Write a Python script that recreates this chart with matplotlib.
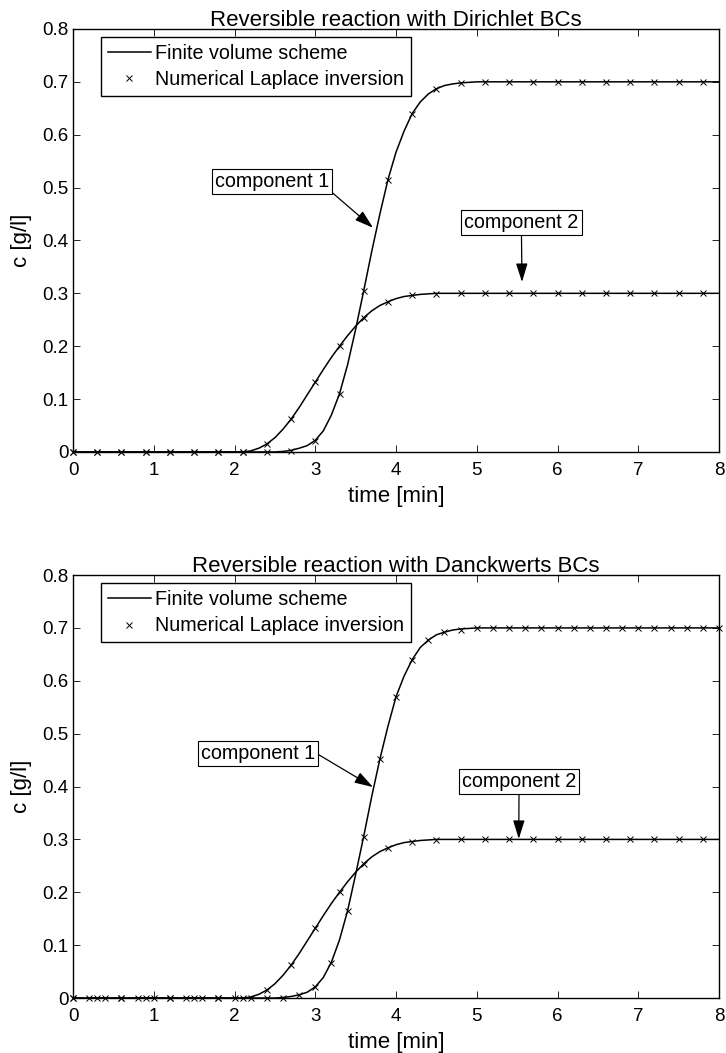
import numpy as np
import matplotlib
matplotlib.use("Agg")
import matplotlib.pyplot as plt

plt.rcParams['font.family'] = ['Liberation Sans', 'DejaVu Sans']
plt.rcParams['font.size'] = 13.5

# ---- curve data (finite volume scheme) ----
t_line = [0.0, 2.0, 2.1, 2.2, 2.3, 2.4, 2.5, 2.6, 2.7, 2.8, 2.9, 3.0, 3.1, 3.2, 3.3,
          3.4, 3.5, 3.6, 3.7, 3.8, 3.9, 4.0, 4.1, 4.2, 4.3, 4.4, 4.5, 4.6, 4.7,
          4.8, 4.9, 5.0, 8.0]
c1_dir_line = [0, 0, 0, 0, 0, 0, 0, 0.001, 0.003, 0.007, 0.012, 0.022, 0.04, 0.07, 0.11,
               0.165, 0.232, 0.305, 0.38, 0.45, 0.515, 0.567, 0.607, 0.64, 0.662, 0.677,
               0.687, 0.693, 0.696, 0.698, 0.699, 0.7, 0.7]
c2_dir_line = [0, 0, 0, 0.002, 0.007, 0.015, 0.027, 0.043, 0.062, 0.084, 0.108, 0.132, 0.156,
               0.179, 0.2, 0.22, 0.238, 0.254, 0.267, 0.277, 0.284, 0.29, 0.294, 0.296, 0.298,
               0.299, 0.3, 0.3, 0.3, 0.3, 0.3, 0.3, 0.3]
c1_dan_line = [0, 0, 0, 0, 0, 0, 0, 0.001, 0.003, 0.006, 0.011, 0.021, 0.039, 0.068, 0.11,
               0.165, 0.234, 0.306, 0.382, 0.452, 0.514, 0.57, 0.609, 0.64, 0.663, 0.677,
               0.687, 0.692, 0.696, 0.698, 0.699, 0.7, 0.7]
c2_dan_line = c2_dir_line

# ---- numerical Laplace inversion samples ----
t_dir = np.round(np.arange(0, 7.81, 0.3), 2)
c1_dir_pts = [0] * 9 + [0.002, 0.02, 0.11, 0.305, 0.515, 0.64, 0.687, 0.698] + [0.7] * 10
c2_dir_pts = [0] * 8 + [0.015, 0.062, 0.132, 0.2, 0.254, 0.284, 0.296, 0.299] + [0.3] * 11

t_dan1 = np.round(np.arange(0, 8.01, 0.2), 2)
c1_dan_pts = ([0] * 13 + [0.001, 0.005, 0.02, 0.067, 0.165, 0.305, 0.453, 0.57, 0.64,
              0.677, 0.692, 0.697, 0.699] + [0.7] * 15)
t_dan2 = t_dir
c2_dan_pts = c2_dir_pts

titles = ["Reversible reaction with Dirichlet BCs", "Reversible reaction with Danckwerts BCs"]

fig = plt.figure(figsize=(7.26, 10.53), dpi=100)
ax1 = fig.add_axes([0.1006, 0.5708, 0.8898, 0.4017])
ax2 = fig.add_axes([0.1006, 0.0522, 0.8898, 0.4017])

panels = [
    (ax1, c1_dir_line, c2_dir_line, t_dir, c1_dir_pts, t_dir, c2_dir_pts,
     ((2.464, 0.5116), (3.715, 0.424), (1.0, 0.05)), ((5.553, 0.4331), (5.56, 0.3215))),
    (ax2, c1_dan_line, c2_dan_line, t_dan1, c1_dan_pts, t_dan2, c2_dan_pts,
     ((2.291, 0.4624), (3.715, 0.399), (1.0, 0.55)), ((5.523, 0.4095), (5.52, 0.301))),
]

for i, (ax, l1, l2, tp1, p1, tp2, p2, ann1, ann2) in enumerate(panels):
    ax.plot(t_line, l1, 'k-', lw=1.1, label="Finite volume scheme")
    ax.plot(t_line, l2, 'k-', lw=1.1)
    ax.plot(tp1, p1, 'kx', ms=5, mew=0.7, label="Numerical Laplace inversion", clip_on=False)
    ax.plot(tp2, p2, 'kx', ms=5, mew=0.7, clip_on=False)

    ax.set_xlim(0, 8)
    ax.set_ylim(0, 0.8)
    ax.set_xticks(range(0, 9))
    ax.set_yticks(np.arange(0, 0.81, 0.1))
    ax.set_yticklabels(["0"] + [f"{v:.1f}" for v in np.arange(0.1, 0.81, 0.1)])
    ax.tick_params(direction='in', top=True, right=True, length=5, width=0.6, pad=3)
    ax.tick_params(axis='x', pad=7)
    for s in ax.spines.values():
        s.set_linewidth(1.0)
    ax.set_xlabel("time [min]", labelpad=5, fontsize=16)
    ax.set_ylabel("c [g/l]", labelpad=8, fontsize=16)
    ax.set_title(titles[i], pad=2, fontsize=16)

    leg = ax.legend(loc='upper left', bbox_to_anchor=(0.043, 0.981), borderaxespad=0,
                    fancybox=False, edgecolor='black', framealpha=1, handlelength=2.2,
                    handletextpad=0.2, borderpad=0.35, labelspacing=0.38, fontsize=14.2)
    leg.get_frame().set_linewidth(1.0)

    box = dict(boxstyle='square,pad=0.15', fc='white', ec='black', lw=0.8)
    (txy1, axy1, rp1) = ann1
    ax.annotate("component 1", xy=axy1, xytext=txy1, ha='center', va='center', bbox=box,
                fontsize=14.2,
                arrowprops=dict(arrowstyle='-|>,head_length=0.8,head_width=0.25', color='black',
                                lw=0.9, relpos=rp1, shrinkA=0, shrinkB=0))
    (txy2, axy2) = ann2
    ax.annotate("component 2", xy=axy2, xytext=txy2, ha='center', va='center', bbox=box,
                fontsize=14.2,
                arrowprops=dict(arrowstyle='-|>,head_length=0.8,head_width=0.25', color='black',
                                lw=0.9, relpos=(0.5, 0.0), shrinkA=0, shrinkB=0))

fig.savefig("out.png", dpi=100)
